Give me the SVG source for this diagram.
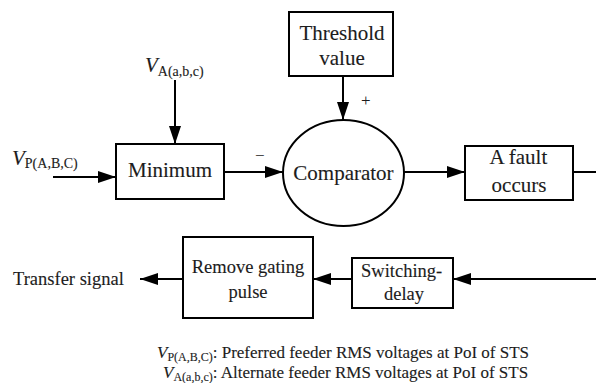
<svg xmlns="http://www.w3.org/2000/svg" width="596" height="383" viewBox="0 0 596 383">
  <defs>
    <marker id="arrow" viewBox="0 0 18 12" refX="18" refY="6" markerWidth="18" markerHeight="12" markerUnits="userSpaceOnUse" orient="auto">
      <path d="M0,0 L18,6 L0,12 z" fill="#000"/>
    </marker>
  </defs>
  <style>
    .box { fill: #fff; stroke: #000; stroke-width: 2; }
    .wire { fill: none; stroke: #000; stroke-width: 2; }
    .arrow { marker-end: url(#arrow); }
    text { font-family: "Liberation Serif", "Times New Roman", serif; font-size: 21px; fill: #1c1c1c; stroke: #1c1c1c; stroke-width: 0.12px; }
    .low { font-size: 18.5px; }
    .it { font-style: italic; }
    .sub { font-size: 14px; }
    .legend { font-size: 17px; }
    .legend .sub { font-size: 12px; }
    .sign { font-size: 17px; stroke-width: 0; }
  </style>

  <rect width="596" height="383" fill="#fff"/>

  <!-- connectors (text positions are left edges computed from Times metrics) -->
  <g id="connectors">
    <line class="wire arrow" x1="175" y1="80" x2="175" y2="144"/>
    <line class="wire arrow" x1="53" y1="177" x2="116" y2="177"/>
    <line class="wire arrow" x1="224" y1="172" x2="283" y2="172"/>
    <line class="wire arrow" x1="343" y1="76" x2="343" y2="120"/>
    <line class="wire arrow" x1="404" y1="172" x2="465" y2="172"/>
    <line class="wire" x1="573" y1="172" x2="596" y2="172"/>
    <line class="wire arrow" x1="596" y1="279" x2="453" y2="279"/>
    <line class="wire arrow" x1="352" y1="279" x2="313" y2="279"/>
    <line class="wire arrow" x1="183" y1="279" x2="140" y2="279"/>
    <text class="sign" x="361" y="106">+</text>
    <text class="sign" x="255" y="161">−</text>
  </g>

  <!-- inputs -->
  <g id="input-va">
    <text x="145" y="72"><tspan class="it">V</tspan><tspan class="sub" dy="4">A(a,b,c)</tspan></text>
  </g>
  <g id="input-vp">
    <text x="12" y="165"><tspan class="it">V</tspan><tspan class="sub" dy="3">P(A,B,C)</tspan></text>
  </g>

  <g id="threshold">
    <rect class="box" x="289" y="12" width="104" height="64"/>
    <text x="299.4" y="40">Threshold</text>
    <text x="319.3" y="65">value</text>
  </g>

  <g id="minimum">
    <rect class="box" x="116" y="144" width="108" height="55"/>
    <text x="128" y="177">Minimum</text>
  </g>

  <g id="comparator">
    <ellipse class="box" cx="343.5" cy="173" rx="60.5" ry="53"/>
    <text x="293.3" y="180">Comparator</text>
  </g>

  <g id="fault">
    <rect class="box" x="465" y="146" width="108" height="54"/>
    <text x="489.5" y="164">A fault</text>
    <text x="491.6" y="192">occurs</text>
  </g>

  <g id="switching-delay">
    <rect class="box" x="352" y="258" width="101" height="50"/>
    <text class="low" x="361" y="277">Switching-</text>
    <text class="low" x="384" y="300">delay</text>
  </g>

  <g id="remove-gating">
    <rect class="box" x="183" y="237" width="130" height="81"/>
    <text class="low" x="191.7" y="273">Remove gating</text>
    <text class="low" x="228.5" y="298">pulse</text>
  </g>

  <g id="transfer-signal">
    <text class="low" x="13" y="285">Transfer signal</text>
  </g>

  <!-- legend -->
  <g id="legend">
    <text class="legend" x="157" y="358"><tspan class="it">V</tspan><tspan class="sub" dy="2.5">P(A,B,C)</tspan><tspan dy="-2.5">: Preferred feeder RMS voltages at PoI of STS</tspan></text>
    <text class="legend" x="163" y="378"><tspan class="it">V</tspan><tspan class="sub" dy="2.5">A(a,b,c)</tspan><tspan dy="-2.5">: Alternate feeder RMS voltages at PoI of STS</tspan></text>
  </g>
</svg>
